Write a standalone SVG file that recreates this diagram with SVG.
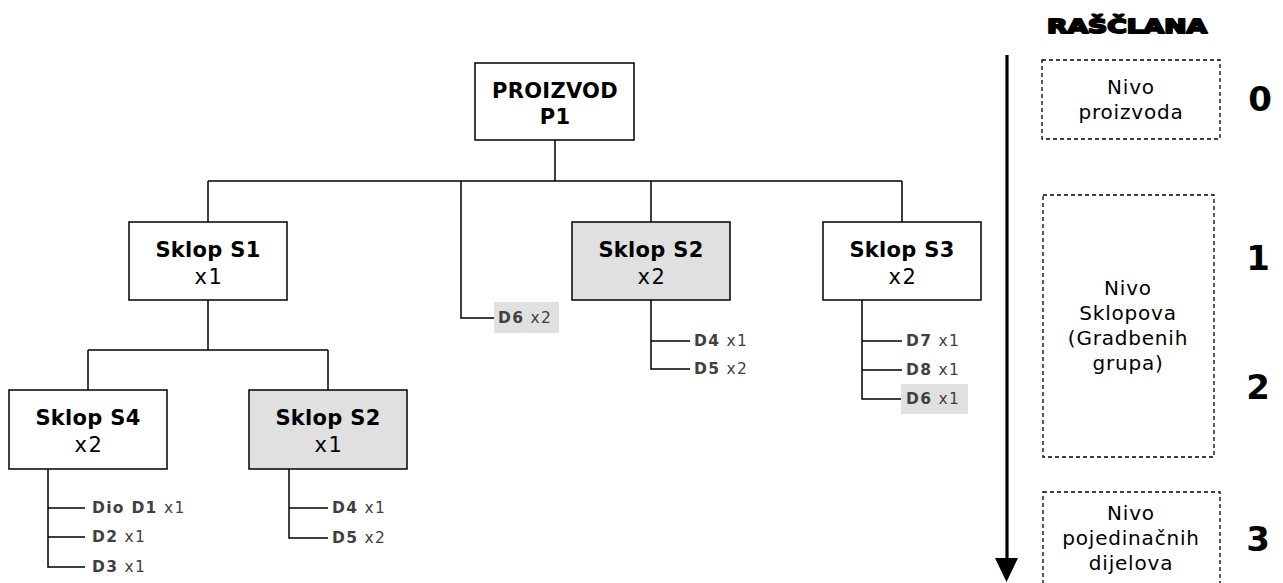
<svg xmlns="http://www.w3.org/2000/svg" width="1283" height="583" viewBox="0 0 1283 583">
<style>
.box{fill:#fff;stroke:#000;stroke-width:1.5}
.gray{fill:#e0e0e0;stroke:#000;stroke-width:1.5}
.t{font-family:"DejaVu Sans",Verdana,sans-serif;text-anchor:middle;fill:#000;letter-spacing:0.3px}
.b{font-weight:bold;font-size:21px}
.n{font-size:21px;letter-spacing:1.5px}
.c{font-family:"DejaVu Sans",Verdana,sans-serif;font-size:15.5px;fill:#404040;letter-spacing:1.3px}
.cb{font-weight:bold}
.hl{fill:#e0e0e0}
.ln{fill:none;stroke:#000;stroke-width:1.5}
.dash{fill:none;stroke:#000;stroke-width:1.3;stroke-dasharray:4,3}
.lv{font-family:"DejaVu Sans",Verdana,sans-serif;font-size:20px;text-anchor:middle;fill:#000;letter-spacing:0.8px}
.num{font-family:"DejaVu Sans",Verdana,sans-serif;font-size:34px;font-weight:bold;text-anchor:middle;fill:#000}
</style>
<g id="connectors">
<path class="ln" d="M555,140 V181 M208,181 H902 M208,181 V222 M461,181 V318 H495 M651,181 V222 M902,181 V222"/>
<path class="ln" d="M208,300 V350 M88,350 H328 M88,350 V390 M328,350 V390"/>
<path class="ln" d="M651,300 V369 H690 M651,341 H690"/>
<path class="ln" d="M862,300 V399 H902 M862,341 H902 M862,370 H902"/>
<path class="ln" d="M48,469 V567 H85 M48,508 H85 M48,537 H85"/>
<path class="ln" d="M289,469 V538 H328 M289,508 H328"/>
</g>
<g id="p1">
<rect class="box" x="475" y="63" width="159" height="77"/>
<text class="t b" x="555" y="98" letter-spacing="1.5">PROIZVOD</text>
<text class="t b" x="555" y="124">P1</text>
</g>
<g id="s1">
<rect class="box" x="129" y="222" width="158" height="78"/>
<text class="t b" x="208" y="257">Sklop S1</text>
<text class="t n" x="209" y="284">x1</text>
</g>
<g id="s2top">
<rect class="gray" x="572" y="222" width="158" height="78"/>
<text class="t b" x="651" y="257">Sklop S2</text>
<text class="t n" x="652" y="284">x2</text>
</g>
<g id="s3">
<rect class="box" x="823" y="222" width="158" height="78"/>
<text class="t b" x="902" y="257">Sklop S3</text>
<text class="t n" x="903" y="284">x2</text>
</g>
<g id="s4">
<rect class="box" x="9" y="390" width="158" height="79"/>
<text class="t b" x="88" y="425">Sklop S4</text>
<text class="t n" x="89" y="452">x2</text>
</g>
<g id="s2bottom">
<rect class="gray" x="249" y="390" width="158" height="79"/>
<text class="t b" x="328" y="425">Sklop S2</text>
<text class="t n" x="329" y="452">x1</text>
</g>
<g id="d6a">
<rect class="hl" x="494" y="302" width="65" height="31"/>
<text class="c" x="498" y="323"><tspan class="cb">D6</tspan> x2</text>
</g>
<g id="s2top-parts">
<text class="c" x="694" y="346"><tspan class="cb">D4</tspan> x1</text>
<text class="c" x="694" y="374"><tspan class="cb">D5</tspan> x2</text>
</g>
<g id="s3-parts">
<text class="c" x="906" y="346"><tspan class="cb">D7</tspan> x1</text>
<text class="c" x="906" y="375"><tspan class="cb">D8</tspan> x1</text>
<rect class="hl" x="901" y="384" width="67" height="30"/>
<text class="c" x="906" y="404"><tspan class="cb">D6</tspan> x1</text>
</g>
<g id="s4-parts">
<text class="c" x="92" y="513"><tspan class="cb">Dio D1</tspan> x1</text>
<text class="c" x="92" y="542"><tspan class="cb">D2</tspan> x1</text>
<text class="c" x="92" y="572"><tspan class="cb">D3</tspan> x1</text>
</g>
<g id="s2bottom-parts">
<text class="c" x="332" y="513"><tspan class="cb">D4</tspan> x1</text>
<text class="c" x="332" y="543"><tspan class="cb">D5</tspan> x2</text>
</g>
<g id="rascl">
<text x="1127" y="33" font-family="DejaVu Sans,sans-serif" font-size="20" font-weight="900" stroke="#000" stroke-width="2" stroke-linejoin="round" text-anchor="middle" textLength="160" lengthAdjust="spacingAndGlyphs">RAŠČLANA</text>
<line x1="1007" y1="55" x2="1007" y2="560" stroke="#000" stroke-width="3.2"/>
<path d="M995,558 L1018,558 L1006.5,582 Z" fill="#000"/>
</g>
<g id="level0">
<rect class="dash" x="1042" y="60" width="178" height="79"/>
<text class="lv" x="1131" y="94">Nivo</text>
<text class="lv" x="1131" y="119">proizvoda</text>
<text class="num" x="1260" y="111">0</text>
</g>
<g id="level12">
<rect class="dash" x="1043" y="195" width="171" height="262"/>
<text class="lv" x="1128" y="295">Nivo</text>
<text class="lv" x="1128" y="320">Sklopova</text>
<text class="lv" x="1128" y="345">(Gradbenih</text>
<text class="lv" x="1128" y="370">grupa)</text>
<text class="num" x="1258" y="270">1</text>
<text class="num" x="1258" y="399">2</text>
</g>
<g id="level3">
<rect class="dash" x="1043" y="492" width="177" height="100"/>
<text class="lv" x="1131" y="520">Nivo</text>
<text class="lv" x="1131" y="545">pojedinačnih</text>
<text class="lv" x="1131" y="570">dijelova</text>
<text class="num" x="1258" y="551">3</text>
</g>
</svg>
